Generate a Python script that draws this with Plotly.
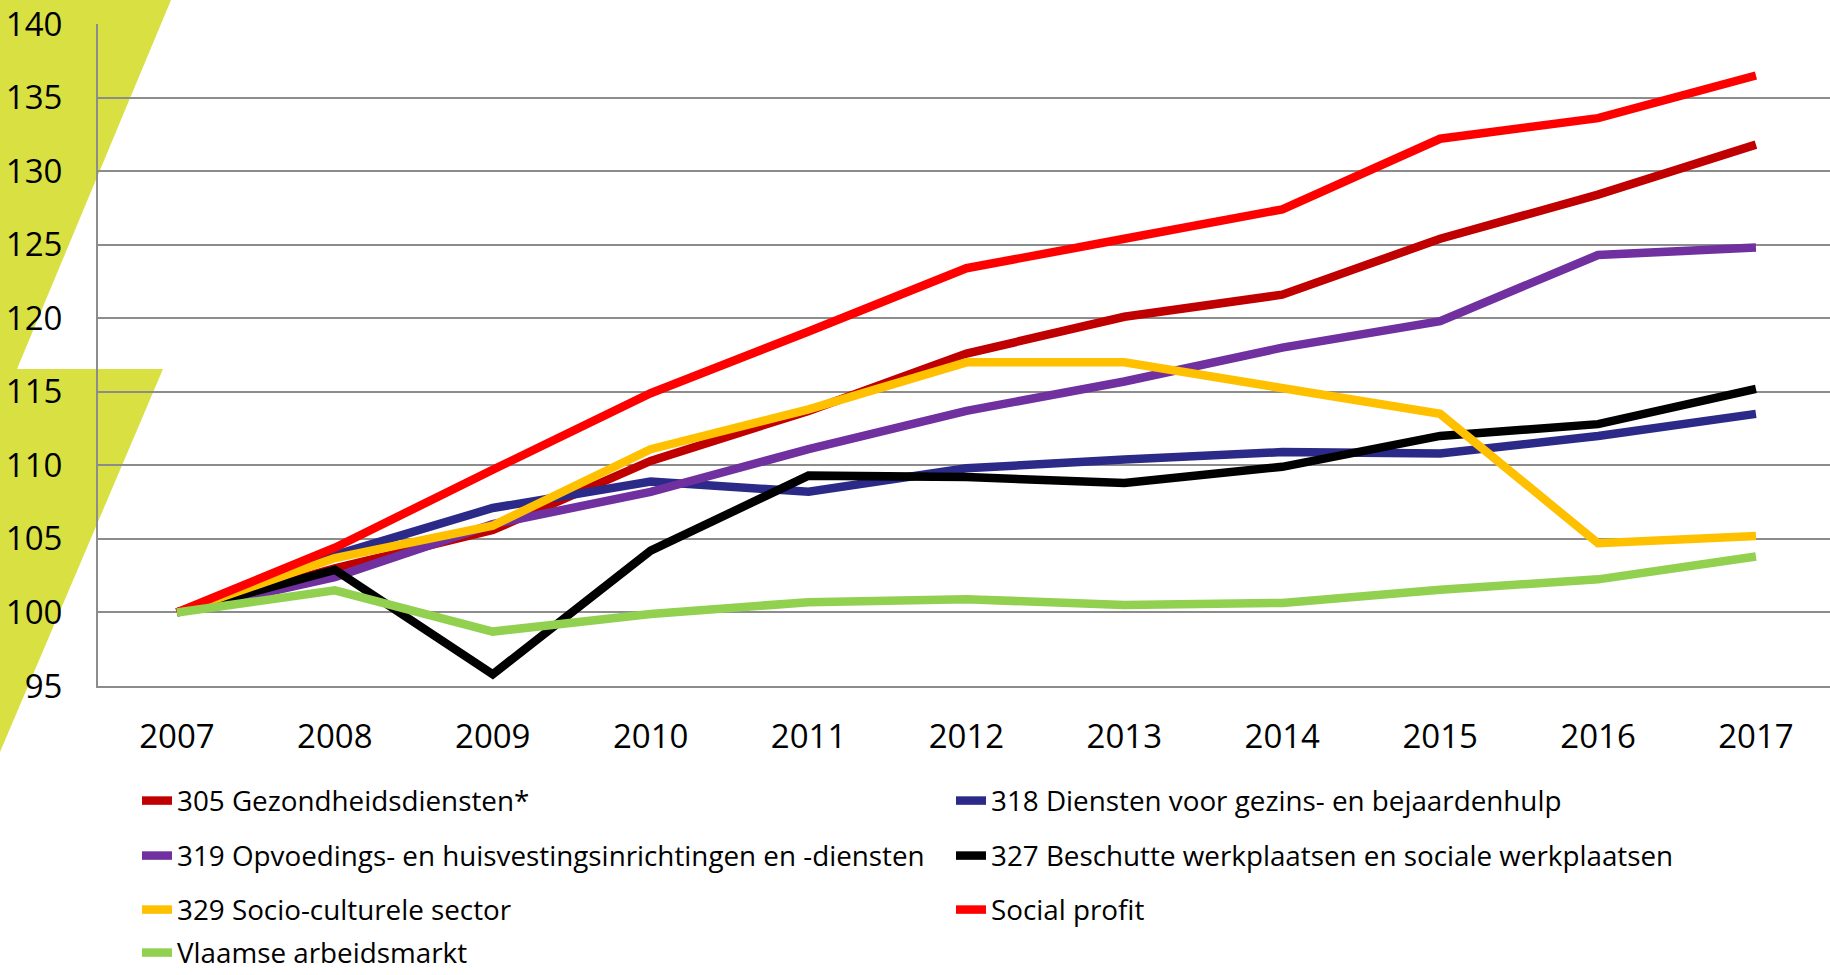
import plotly.graph_objects as go

W, H = 1830, 975
ML, MR, MT, MB = 98, 0, 24, 289

years = [2007, 2008, 2009, 2010, 2011, 2012, 2013, 2014, 2015, 2016, 2017]
year_labels = [str(y) for y in years]

gezondheid_305 = [100, 103.0, 105.6, 110.3, 113.7, 117.6, 120.1, 121.6, 125.4, 128.4, 131.8]
gezinszorg_318 = [100, 103.9, 107.1, 108.9, 108.2, 109.8, 110.4, 110.9, 110.8, 112.0, 113.5]
opvoeding_319 = [100, 102.4, 106.0, 108.2, 111.1, 113.7, 115.7, 118.0, 119.8, 124.3, 124.8]
beschutte_327 = [100, 102.9, 95.8, 104.2, 109.3, 109.2, 108.8, 109.9, 112.0, 112.8, 115.2]
socio_329 = [100, 103.7, 105.9, 111.1, 113.8, 117.0, 117.0, 115.2, 113.5, 104.7, 105.2]
social_profit = [100, 104.4, 109.7, 114.9, 119.1, 123.4, 125.4, 127.4, 132.2, 133.6, 136.5]
vlaamse = [100, 101.5, 98.7, 99.9, 100.7, 100.9, 100.5, 100.65, 101.55, 102.25, 103.8]

names = [
    "305 Gezondheidsdiensten*",
    "318 Diensten voor gezins- en bejaardenhulp",
    "319 Opvoedings- en huisvestingsinrichtingen en -diensten",
    "327 Beschutte werkplaatsen en sociale werkplaatsen",
    "329 Socio-culturele sector",
    "Social profit",
    "Vlaamse arbeidsmarkt",
]
series = [gezondheid_305, gezinszorg_318, opvoeding_319, beschutte_327, socio_329, social_profit, vlaamse]
colors = ["#C00000", "#2B2A88", "#7030A0", "#000000", "#FFC000", "#FF0000", "#92D050"]

# legend grid: (text-left x px, row centre y px)
leg_pos = [(177, 801), (991, 801), (177, 856), (991, 856), (177, 910), (991, 910), (177, 953)]

PW = W - ML - MR
PH = H - MT - MB


def px2paper(px, py):
    return (px - ML) / PW, (H - MB - py) / PH


FONT = "Open Sans, Lato, Noto Sans, sans-serif"

fig = go.Figure()
for i, (nm, ys, c) in enumerate(zip(names, series, colors)):
    lg = "legend" if i == 0 else f"legend{i+1}"
    fig.add_trace(go.Scatter(
        x=years, y=ys, name=nm, mode="lines",
        line=dict(color=c, width=8.5),
        legend=lg, showlegend=True,
    ))

layout_legends = {}
for i, (tx, ty) in enumerate(leg_pos):
    key = "legend" if i == 0 else f"legend{i+1}"
    lx, ly = px2paper(tx - 40, ty)
    layout_legends[key] = dict(
        x=lx, y=ly, xanchor="left", yanchor="middle",
        xref="paper", yref="paper",
        orientation="h", bgcolor="rgba(0,0,0,0)", borderwidth=0,
        font=dict(family=FONT, size=27.8, color="#000000"),
        itemclick=False, itemdoubleclick=False,
    )

# decorative lime background wedges
g1 = [(0, 0), (171, 0), (17, 369), (0, 369)]
g2 = [(0, 369), (163, 369), (0, 752)]
shapes = []
for poly in (g1, g2):
    pts = [px2paper(a, b) for a, b in poly]
    path = "M " + " L ".join(f"{a:.5f},{b:.5f}" for a, b in pts) + " Z"
    shapes.append(dict(type="path", xref="paper", yref="paper", path=path,
                       fillcolor="#D8E042", line=dict(width=0), layer="below"))

fig.update_layout(
    width=W, height=H,
    margin=dict(l=ML, r=MR, t=MT, b=MB, pad=0, autoexpand=False),
    paper_bgcolor="#FFFFFF", plot_bgcolor="rgba(0,0,0,0)",
    font=dict(family=FONT, color="#000000"),
    shapes=shapes,
    **layout_legends,
)
fig.update_xaxes(
    range=[2006.5, 2017.469], tickvals=years, ticktext=year_labels,
    showgrid=False, zeroline=False, showline=True, linecolor="#8C8C8C", linewidth=2,
    ticks="", ticklabelstandoff=20, automargin=False,
    tickfont=dict(family=FONT, size=33, color="#000000"),
)
fig.update_yaxes(
    range=[95, 140], dtick=5, tick0=95,
    showgrid=True, gridcolor="#8C8C8C", gridwidth=2,
    zeroline=False, showline=True, linecolor="#8C8C8C", linewidth=2,
    ticks="", ticklabelstandoff=27, automargin=False,
    tickfont=dict(family=FONT, size=33, color="#000000"),
)

fig.write_html(
    "out.html",
    config={"displayModeBar": False},
    post_script="document.body.style.margin='0';document.body.style.overflow='hidden';",
)
